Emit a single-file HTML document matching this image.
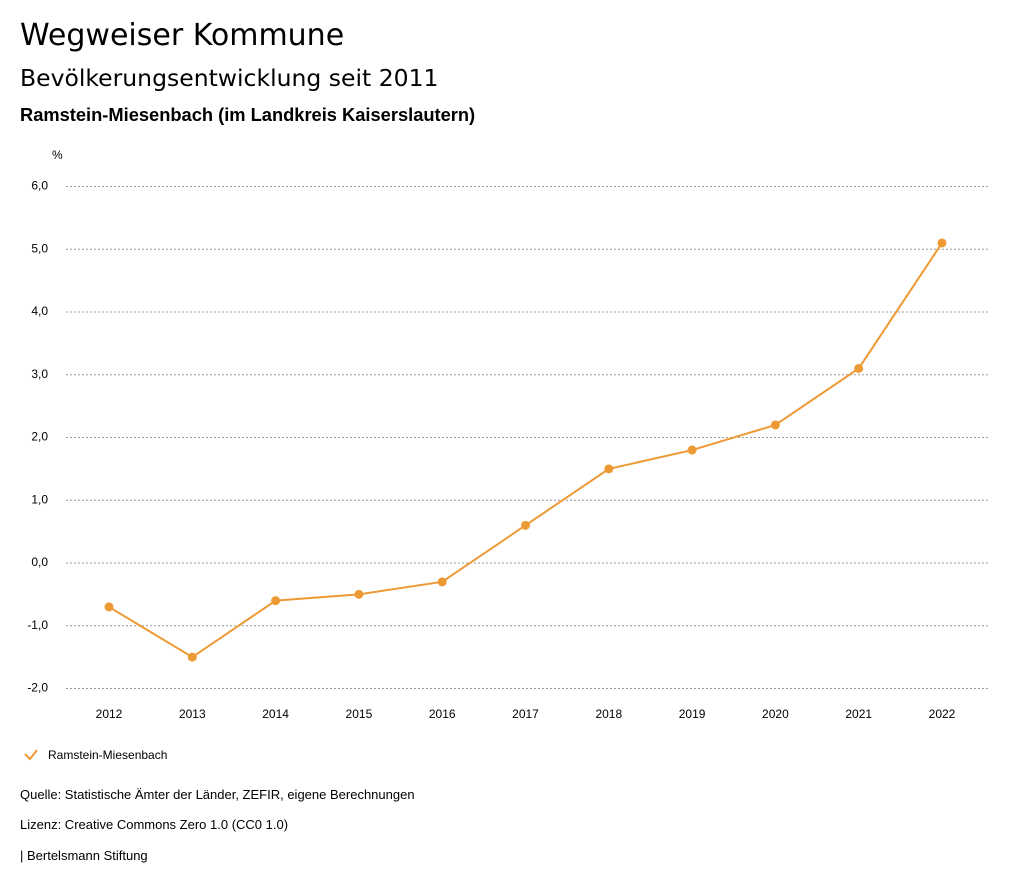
<!DOCTYPE html>
<html><head><meta charset="utf-8"><style>
body{margin:0;background:#fff;width:1024px;height:888px;overflow:hidden;font-family:"Liberation Sans",sans-serif;color:#000}
.t1{position:absolute;left:20px;top:18px;font-size:30px;font-family:"DejaVu Sans",sans-serif}
.t2{position:absolute;left:20px;top:64px;font-size:23.5px;font-family:"DejaVu Sans",sans-serif}
.t3{position:absolute;left:20px;top:104px;font-size:18.3px;font-weight:bold}
.f{position:absolute;left:20px;font-size:13px}
</style></head><body>
<div class="t1">Wegweiser Kommune</div>
<div class="t2">Bevölkerungsentwicklung seit 2011</div>
<div class="t3">Ramstein-Miesenbach (im Landkreis Kaiserslautern)</div>
<svg id="chart" style="position:absolute;left:0;top:0" width="1024" height="888"></svg>
<div class="f" style="top:787px">Quelle: Statistische Ämter der Länder, ZEFIR, eigene Berechnungen</div>
<div class="f" style="top:817px">Lizenz: Creative Commons Zero 1.0 (CC0 1.0)</div>
<div class="f" style="top:848px">| Bertelsmann Stiftung</div>
<script>
const years=["2012","2013","2014","2015","2016","2017","2018","2019","2020","2021","2022"];
const values=[-0.7,-1.5,-0.6,-0.5,-0.3,0.6,1.5,1.8,2.2,3.1,5.1];
const yTicks=[-2,-1,0,1,2,3,4,5,6];
const seriesName="Ramstein-Miesenbach";
const NS="http://www.w3.org/2000/svg";
const svg=document.getElementById('chart');
const color="#ed9a35";
function x(i){return 109+i*(942-109)/(years.length-1);}
function y(v){return 563-v*62.75;}
function mk(t,a,p){const e=document.createElementNS(NS,t);for(const k in a)e.setAttribute(k,a[k]);(p||svg).appendChild(e);return e;}
const u=mk('text',{x:52,y:159,'font-size':12,fill:'#000'});u.textContent='%';


yTicks.forEach(v=>{
 const l=mk('line',{x1:66,x2:990,y1:y(v),y2:y(v),stroke:'#999','stroke-dasharray':'2,2','stroke-width':1});
 
 
 const t=mk('text',{x:48,y:y(v)+3,'font-size':12,'text-anchor':'end',fill:'#000'});
 t.textContent=v.toFixed(1).replace('.',',');
 
 
});
years.forEach((yr,i)=>{
 const t=mk('text',{x:x(i),y:718,'font-size':12,'text-anchor':'middle',fill:'#000'});
 t.textContent=yr;
 
 
});
const pl=mk('polyline',{points:values.map((v,i)=>x(i)+','+y(v)).join(' '),fill:'none',stroke:color,'stroke-width':2});


values.forEach((v,i)=>{
 const c=mk('circle',{cx:x(i),cy:y(v),r:4.5,fill:color});
 
 
});
const g=mk('g',{});


mk('polyline',{points:'25,754 30,759 37,750',fill:'none',stroke:color,'stroke-width':2},g);
const lt=mk('text',{x:48,y:759,'font-size':12,fill:'#000'},g);lt.textContent=seriesName;
</script>
</body></html>
